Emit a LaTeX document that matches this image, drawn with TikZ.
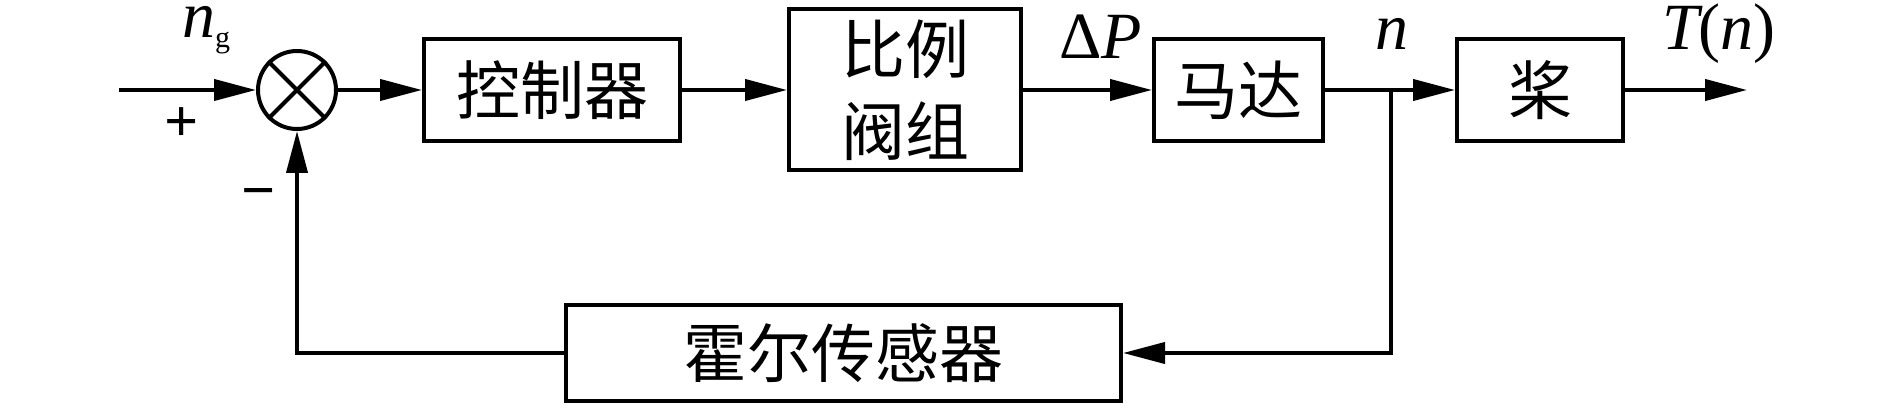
\documentclass[tikz,border=0pt]{standalone}
\usepackage{fontspec}
\setmainfont{Liberation Serif}
\newfontfamily\cjk{Noto Sans CJK SC}
\usetikzlibrary{arrows.meta}

\begin{document}
\begin{tikzpicture}
[x=0.5pt,y=-0.5pt,line width=2pt,
 block/.style={shape=rectangle,draw,line width=2pt,inner sep=0pt,minimum height=51pt,font=\fontsize{32}{41}\cjk},
 summer/.style={shape=circle,draw,line width=2pt,inner sep=0pt,minimum size=39pt},
 sig/.style={-{Triangle[length=21pt,width=10.5pt]}},
 lbl/.style={font=\fontsize{33}{33}\selectfont\itshape,inner sep=0pt},
 sign/.style={font=\fontsize{30}{30}\selectfont\bfseries,inner sep=0pt}]

\useasboundingbox (0,0) rectangle (1889,405);

\node (sum) [summer] at (297,90) {};
\draw (sum.north west) -- (sum.south east) (sum.north east) -- (sum.south west);

\node (ctrl) [block,minimum width=128pt] at (552,90) {控制器};
\node (valve) [block,minimum width=116pt,minimum height=80.5pt,align=center] at (905,90) {比例\\阀组};
\node (motor) [block,minimum width=84.5pt] at (1238.5,90) {马达};
\node (prop) [block,minimum width=83pt] at (1540,90) {桨};
\node (hall) [block,minimum width=277.5pt,minimum height=48pt] at (843.5,353) {霍尔传感器};

\coordinate (in) at (119,90);
\coordinate (branch) at (1391,90);
\coordinate (out) at (1747,90);

\draw [sig] (in) -- (sum);
\draw [sig] (sum) -- (ctrl);
\draw [sig] (ctrl) -- (valve);
\draw [sig] (valve) -- (motor);
\draw [sig] (motor) -- (prop);
\draw [sig] (prop) -- (out);

\draw [sig] (branch) |- (hall);
\draw [sig] (hall) -| (sum);

\node (ng) [lbl,anchor=base west] at (180,38) {n\raisebox{-5pt}{\fontsize{15}{15}\selectfont\upshape g}};
\node (plus) [sign] at (182,125) {+};
\node (minus) [sign] at (259,200) {−};
\node (dp) [lbl,anchor=base west] at (1057,59) {{\upshape Δ}P};
\node (nout) [lbl,anchor=base] at (1392,50) {n};
\node (tn) [lbl,anchor=base west] at (1660,50) {T{\upshape(}n{\upshape)}};

\end{tikzpicture}
\end{document}
